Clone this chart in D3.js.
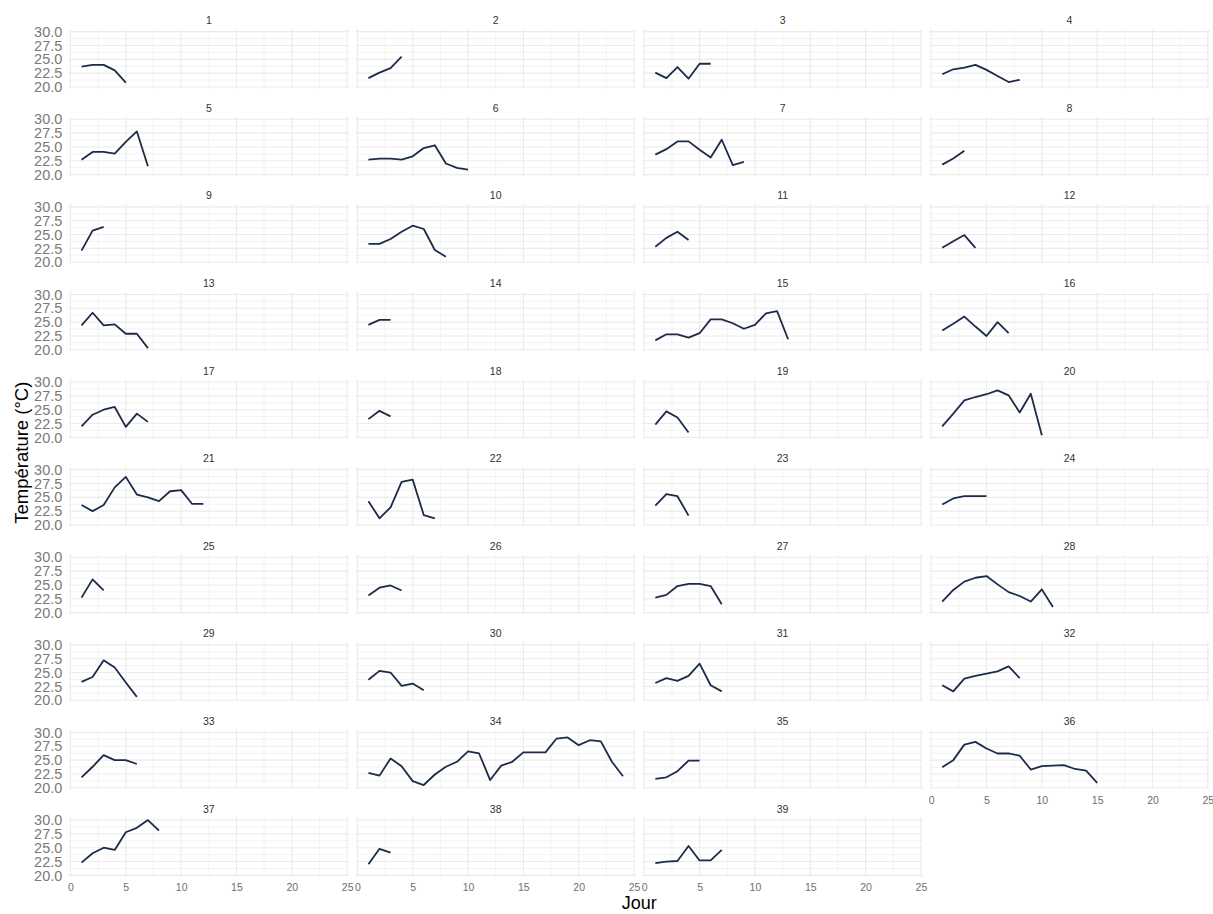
<!DOCTYPE html>
<html><head><meta charset="utf-8">
<script src="https://cdn.jsdelivr.net/npm/d3@7"></script>
<style>
body{margin:0;background:#fff}
text{font-family:"Liberation Sans",Arial,sans-serif}
</style>
</head><body>
<svg id="chart" width="1213" height="914"></svg>
<script>
// ---- data ----
const facetLabels = d3.range(1, 40).map(String);
const temps = [
  [23.7, 24.0, 24.0, 23.0, 20.8],
  [21.6, 22.6, 23.4, 25.5],
  [22.6, 21.6, 23.6, 21.5, 24.2, 24.2],
  [22.3, 23.2, 23.5, 24.0, 23.1, 22.0, 20.9, 21.3],
  [22.7, 24.1, 24.1, 23.8, 25.9, 27.8, 21.5],
  [22.7, 22.9, 22.9, 22.7, 23.3, 24.8, 25.3, 22.0, 21.2, 20.9],
  [23.6, 24.6, 26.0, 26.0, 24.5, 23.1, 26.3, 21.7, 22.3],
  [21.8, 22.9, 24.3],
  [22.1, 25.7, 26.4],
  [23.3, 23.3, 24.2, 25.5, 26.6, 26.0, 22.2, 21.0],
  [22.8, 24.4, 25.5, 24.0],
  [22.6, 23.8, 24.9, 22.6],
  [24.4, 26.7, 24.4, 24.6, 22.9, 22.9, 20.3],
  [24.5, 25.4, 25.4],
  [21.7, 22.8, 22.8, 22.2, 23.0, 25.5, 25.5, 24.8, 23.8, 24.5, 26.6, 27.0, 21.9],
  [23.5, 24.7, 26.0, 24.2, 22.5, 25.0, 23.0],
  [22.0, 24.1, 25.0, 25.5, 21.9, 24.3, 22.8],
  [23.3, 24.8, 23.8],
  [22.3, 24.7, 23.6, 20.9],
  [22.0, 24.3, 26.7, 27.3, 27.8, 28.5, 27.6, 24.5, 27.9, 20.4],
  [23.6, 22.5, 23.6, 26.8, 28.7, 25.5, 25.0, 24.3, 26.1, 26.3, 23.8, 23.8],
  [24.3, 21.2, 23.2, 27.8, 28.2, 21.8, 21.2],
  [23.5, 25.6, 25.2, 21.7],
  [23.7, 24.8, 25.2, 25.2, 25.2],
  [22.7, 26.0, 24.0],
  [23.1, 24.5, 24.9, 24.0],
  [22.7, 23.2, 24.8, 25.2, 25.2, 24.8, 21.5],
  [22.0, 24.1, 25.6, 26.3, 26.6, 25.1, 23.7, 23.0, 22.0, 24.2, 21.0],
  [23.3, 24.2, 27.2, 25.9, 23.2, 20.6],
  [23.7, 25.3, 25.0, 22.6, 23.0, 21.8],
  [23.1, 24.0, 23.5, 24.4, 26.6, 22.7, 21.6],
  [22.7, 21.6, 23.9, 24.4, 24.8, 25.2, 26.1, 24.0],
  [21.9, 23.8, 25.9, 25.0, 25.0, 24.3],
  [22.7, 22.2, 25.3, 23.9, 21.2, 20.5, 22.4, 23.8, 24.7, 26.6, 26.2, 21.4, 24.0, 24.7, 26.4, 26.4, 26.4, 28.9, 29.1, 27.7, 28.6, 28.4, 24.7, 22.1],
  [21.6, 21.9, 23.0, 24.9, 24.9],
  [23.7, 25.0, 27.8, 28.3, 27.1, 26.2, 26.2, 25.8, 23.3, 23.9, 24.0, 24.1, 23.4, 23.1, 20.9],
  [22.3, 24.0, 25.0, 24.6, 27.8, 28.6, 30.0, 28.1],
  [22.0, 24.8, 24.1],
  [22.2, 22.5, 22.6, 25.3, 22.7, 22.7, 24.6]
];
const xTicks = [0, 5, 10, 15, 20, 25];
const xMinor = [2.5, 7.5, 12.5, 17.5, 22.5];
const yTicks = [20, 22.5, 25, 27.5, 30];
const yMinor = [21.25, 23.75, 26.25, 28.75];
const xTitle = "Jour";
const yTitle = "Température (°C)";

// ---- layout ----
const nCol = 4, colStep = 286.9, left0 = 68.8, pw = 280;
const rowStep = 87.6, top0 = 28.9, ph = 59.2;
const lineColor = "#1d2b4a", gridColor = "#ebebeb";

const x = d3.scaleLinear().domain([-0.15, 25.15]).range([0, pw]);
const y = d3.scaleLinear().domain([19.8, 30.5]).range([ph, 0]);
const line = d3.line().x((d, i) => x(i + 1)).y(d => y(d));

const svg = d3.select("#chart");
const n = temps.length;

temps.forEach((vals, i) => {
  const col = i % nCol, row = Math.floor(i / nCol);
  const g = svg.append("g")
    .attr("transform", `translate(${left0 + col * colStep},${top0 + row * rowStep})`);

  // minor grid
  g.selectAll(".ymin").data(yMinor).join("line")
    .attr("x1", 0).attr("x2", pw).attr("y1", d => y(d)).attr("y2", d => y(d))
    .attr("stroke", gridColor).attr("stroke-width", 0.6);
  g.selectAll(".xmin").data(xMinor).join("line")
    .attr("y1", 0).attr("y2", ph).attr("x1", d => x(d)).attr("x2", d => x(d))
    .attr("stroke", gridColor).attr("stroke-width", 0.6);
  // major grid
  g.selectAll(".ymaj").data(yTicks).join("line")
    .attr("x1", 0).attr("x2", pw).attr("y1", d => y(d)).attr("y2", d => y(d))
    .attr("stroke", gridColor).attr("stroke-width", 1.1);
  g.selectAll(".xmaj").data(xTicks).join("line")
    .attr("y1", 0).attr("y2", ph).attr("x1", d => x(d)).attr("x2", d => x(d))
    .attr("stroke", gridColor).attr("stroke-width", 1.1);

  // strip label
  g.append("text").attr("x", pw / 2).attr("y", -4.8)
    .attr("text-anchor", "middle").attr("font-size", 10.5).attr("fill", "#333")
    .text(facetLabels[i]);

  // series
  g.append("path").datum(vals).attr("d", line)
    .attr("fill", "none").attr("stroke", lineColor).attr("stroke-width", 1.8)
    .attr("stroke-linejoin", "round");

  // y axis
  if (col === 0) {
    const ay = g.append("g").call(d3.axisLeft(y).tickValues(yTicks).tickSize(0).tickPadding(6.5)
      .tickFormat(d3.format(".1f")));
    ay.select(".domain").remove();
    ay.selectAll("text").attr("font-size", 14.5).attr("fill", "#7a7a7a")
      .style("font-family", "'Liberation Sans', Arial, sans-serif");
  }
  // x axis
  if (i + nCol >= n) {
    const ax = g.append("g").attr("transform", `translate(0,${ph})`)
      .call(d3.axisBottom(x).tickValues(xTicks).tickSize(0).tickPadding(7.5));
    ax.select(".domain").remove();
    ax.selectAll("text").attr("font-size", 10.5).attr("fill", "#6e6e6e")
      .style("font-family", "'Liberation Sans', Arial, sans-serif");
  }
});

// titles
const plotLeft = left0, plotRight = left0 + (nCol - 1) * colStep + pw;
svg.append("text").attr("x", (plotLeft + plotRight) / 2).attr("y", 908.5)
  .attr("text-anchor", "middle").attr("font-size", 18).attr("fill", "#000").text(xTitle);
const nRows = Math.ceil(n / nCol);
const midY = top0 + ((nRows - 1) * rowStep + ph) / 2;
svg.append("text").attr("transform", `translate(28,${midY}) rotate(-90)`)
  .attr("text-anchor", "middle").attr("font-size", 18.5).attr("fill", "#000").text(yTitle);
</script>
</body></html>
